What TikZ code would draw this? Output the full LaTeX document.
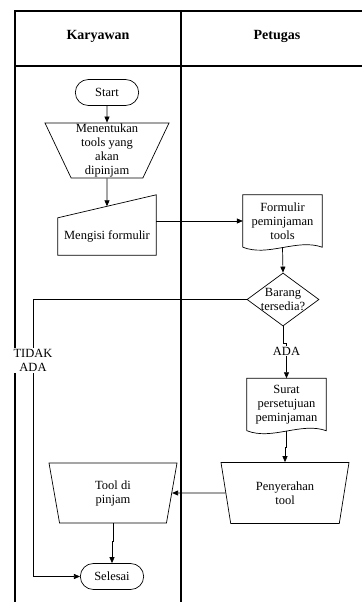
\documentclass[tikz,border=0pt]{standalone}
\usepackage{fontspec}
\setmainfont{Liberation Serif}
\usetikzlibrary{shapes.geometric,shapes.misc,arrows.meta,calc}

\begin{document}
\begin{tikzpicture}[x=1pt,y=-1pt,>={Triangle[length=6pt,width=5pt]},
every node/.style={font=\fontsize{12.5}{14}\selectfont,align=center},
lane/.style={line width=1.2pt},
terminal/.style={rounded rectangle,draw,line width=0.7pt,minimum width=70pt,minimum height=26pt},
manual/.style={trapezium,draw,line width=0.7pt,shape border rotate=180,trapezium stretches body=true,inner sep=0pt},
inputbox/.style={rectangle,minimum width=98pt,minimum height=37pt},
docbox/.style={rectangle,minimum width=79pt,minimum height=52pt,inner sep=2pt},
decision/.style={diamond,draw,line width=0.7pt,aspect=1.36,minimum width=72pt,minimum height=53pt,inner sep=-2pt},
flow/.style={->,line width=0.7pt},
tag/.style={fill=white,inner sep=1pt}]
\useasboundingbox (0,0) rectangle (362,602);

\draw[lane] (15,602) -- (15,11) -- (362,11);
\draw[lane] (181,11) -- (181,602);
\draw[lane] (15,66) -- (362,66);
\node[font=\fontsize{14}{16}\selectfont\bfseries] at (98,36) (karyawan) {Karyawan};
\node[font=\fontsize{14}{16}\selectfont\bfseries] at (277,36) (petugas) {Petugas};

\node[terminal] at (107,92.5)	(start) {Start};
\node[manual,minimum width=124pt,minimum height=55pt,trapezium angle=63.9] at (107,150.5) (tentukan) {Menentukan\\tools yang\\akan\\dipinjam};
\node[inputbox] at (107,236.5)	(isi) {Mengisi formulir};
\node[docbox] at (282.5,221)	(formulir) {Formulir\\peminjaman\\tools};
\node[decision] at (283,299.5)	(cek) {Barang\\tersedia?};
\node[docbox] at (286.5,404.5)	(surat) {Surat\\persetujuan\\peminjaman};
\node[manual,minimum width=128pt,minimum height=61pt,trapezium angle=66.9] at (285,493) (serah) {Penyerahan\\tool};
\node[manual,minimum width=128pt,minimum height=60pt,trapezium angle=67.4] at (113,493) (tool) {Tool di\\pinjam};
\node[terminal] at (112,576.5)	(selesai) {Selesai};
\coordinate (kiri) at (33,0);
\coordinate (isitop) at ($(isi.north)+(0,-11.5)$);

\draw[line width=0.7pt] (isi.north west) -- (isi.south west) -- (isi.south east) -- ($(isi.north east)+(0,-23)$) -- cycle;
\draw[line width=0.7pt] (formulir.south west) -- (formulir.north west) -- (formulir.north east) -- (formulir.south east) .. controls +(-25,-9) and +(25,10) .. (formulir.south west);
\draw[line width=0.7pt] (surat.south west) -- (surat.north west) -- (surat.north east) -- (surat.south east) .. controls +(-25,-9) and +(25,10) .. (surat.south west);

\draw[flow] (start) -- (tentukan);
\draw[flow] (tentukan) -- (isitop);
\draw[flow] (isi.east |- formulir.west) -- (formulir.west);
\draw[flow] (formulir.south) -- (cek.north);
\draw[flow] (cek.south) -- ++(0,17) -| node[tag,pos=0.61] (ada) {ADA} (surat.north);
\draw[flow] (cek.west) -- (cek.west -| kiri) |- node[tag,pos=0.11] (tidak) {TIDAK\\ADA} (selesai.west);
\draw[flow] (surat.south) -- ++(0,17) -| (serah);
\draw[flow] (serah) -- (tool);
\draw[flow] (tool) -- ++(0,48) -| (selesai);
\end{tikzpicture}
\end{document}
